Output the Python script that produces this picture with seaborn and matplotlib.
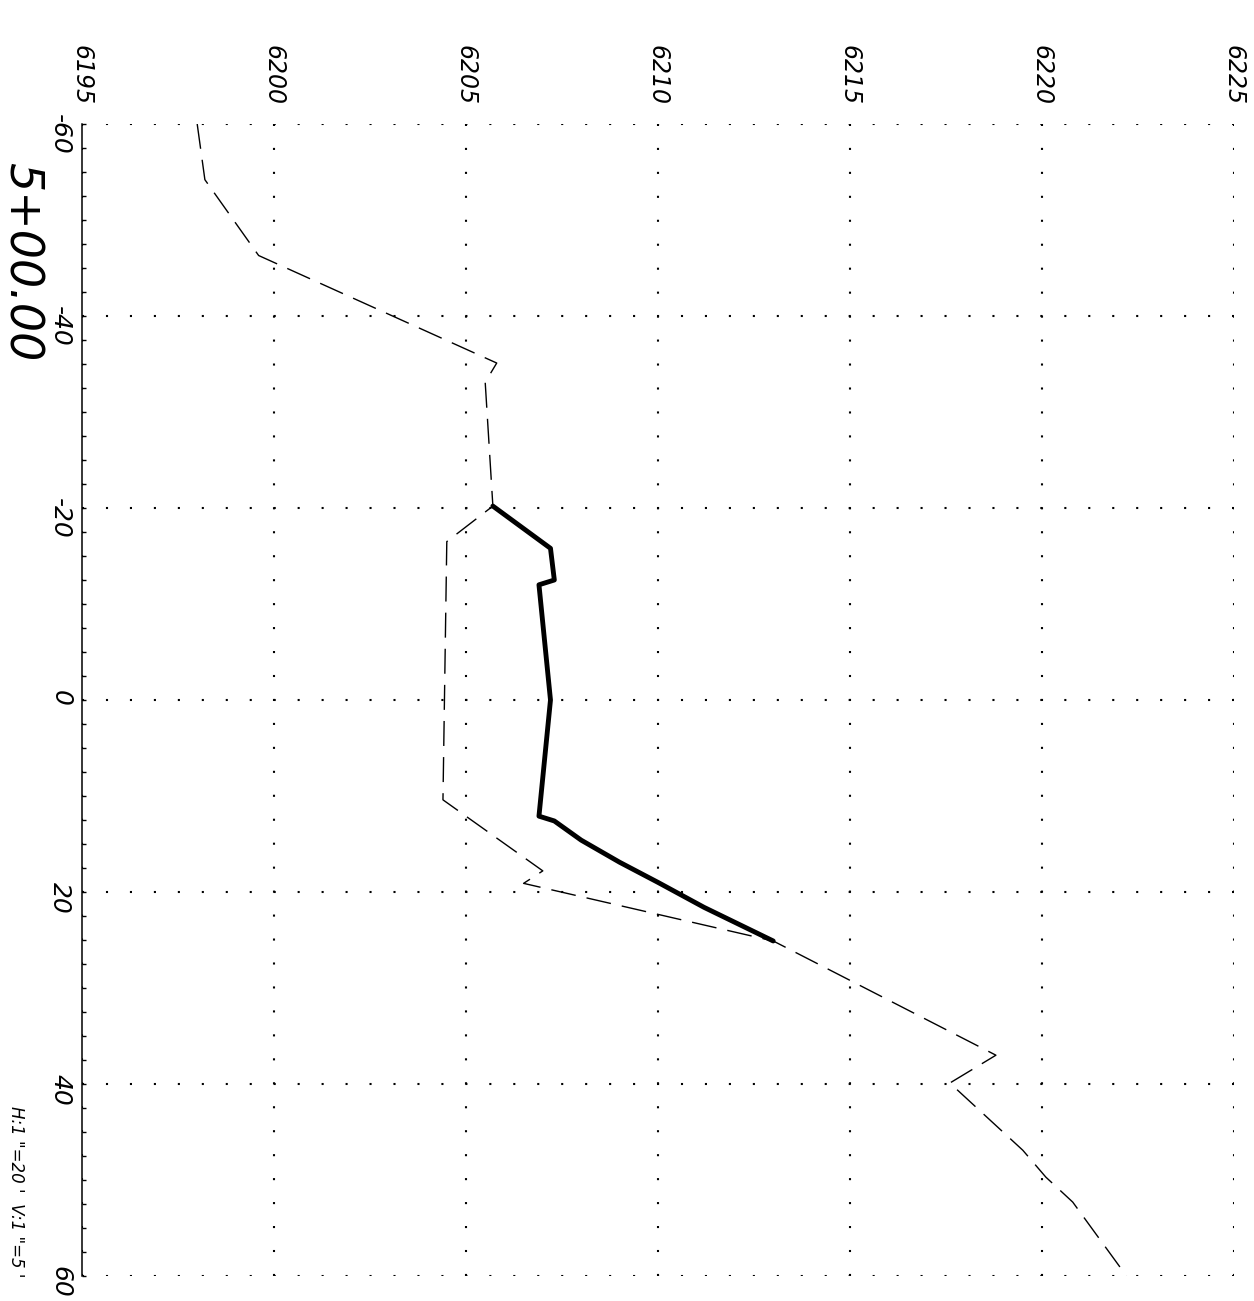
import numpy as np
import pandas as pd
import matplotlib
matplotlib.use("Agg")
import matplotlib.pyplot as plt
import seaborn as sns

# ----------------------------------------------------------
# Dati della sezione trasversale (offset in ft, quota in ft)
# ----------------------------------------------------------
station = "5+00.00"
scale_note = "H:1 \"=20 '  V:1 \"=5 '"

ground_offset = [-60.0, -54.2, -46.3, -35.1, -33.1, -20.2, -16.5, 10.4, 17.8, 19.1,
                 25.1, 37.0, 39.9, 46.9, 49.7, 52.3, 60.0]
ground_elev = [6198.0, 6198.2, 6199.6, 6205.8, 6205.5, 6205.7, 6204.5, 6204.4, 6207.0, 6206.5,
               6213.0, 6218.8, 6217.6, 6219.5, 6220.1, 6220.8, 6222.2]

design_offset = [-20.2, -15.8, -12.5, -12.0, 0.0, 12.1, 12.6, 14.6, 16.9, 19.0, 21.6, 25.1]
design_elev = [6205.7, 6207.2, 6207.3, 6206.9, 6207.2, 6206.9, 6207.3, 6208.0, 6209.0, 6210.0,
               6211.2, 6213.0]

elev_ticks = [6195, 6200, 6205, 6210, 6215, 6220, 6225]
offset_ticks = [-60, -40, -20, 0, 20, 40, 60]

ground = pd.DataFrame({"offset": ground_offset, "elev": ground_elev})
design = pd.DataFrame({"offset": design_offset, "elev": design_elev})

# ----------------------------------------------------------
# Stile
# ----------------------------------------------------------
sns.set_theme(style="white")
plt.rcParams["font.family"] = ["DejaVu Sans"]
plt.rcParams["font.style"] = "italic"
plt.rcParams["axes.unicode_minus"] = False
plt.rcParams["text.color"] = "black"
plt.rcParams["xtick.color"] = "black"
plt.rcParams["ytick.color"] = "black"

W, H = 1254, 1301
fig = plt.figure(figsize=(W / 100, H / 100), dpi=100)
ax = fig.add_axes([82 / W, 1 - 1276 / H, (1234 - 82) / W, (1276 - 124) / H])

# griglia a puntini
ax.grid(True, color="black", linewidth=1.5, linestyle=(0, (1, 10.5)))
ax.set_axisbelow(True)

# terreno esistente (tratteggiato) e progetto (spesso), disegno ruotato
sns.lineplot(data=ground, x="elev", y="offset", sort=False, orient="y", estimator=None,
             color="black", linewidth=1.0, ax=ax)
ax.lines[-1].set_dashes((18, 8))
sns.lineplot(data=design, x="elev", y="offset", sort=False, orient="y", estimator=None,
             color="black", linewidth=3.5, ax=ax)

ax.set_xlim(6195, 6225)
ax.set_ylim(60, -60)
ax.set_xticks(elev_ticks)
ax.set_yticks(offset_ticks)
ax.set_yticks(np.arange(-60, 61, 2.5), minor=True)
ax.set_xlabel("")
ax.set_ylabel("")

for side in ["top", "right", "bottom"]:
    ax.spines[side].set_visible(False)
ax.spines["left"].set_color("black")
ax.spines["left"].set_linewidth(1.1)

ax.xaxis.tick_top()
ax.tick_params(axis="x", length=0, pad=14, labelsize=17, labelrotation=270)
ax.tick_params(axis="y", which="both", direction="in", length=3, width=1,
               pad=7, labelsize=18, labelrotation=270, left=True)

fig.text(21 / W, 1 - 262 / H, station, rotation=270, ha="center", va="center", fontsize=33)
fig.text(16 / W, 1 - 1277 / H, scale_note, rotation=270, ha="center", va="bottom", fontsize=12)

fig.savefig("out.png", dpi=100, facecolor="white")
